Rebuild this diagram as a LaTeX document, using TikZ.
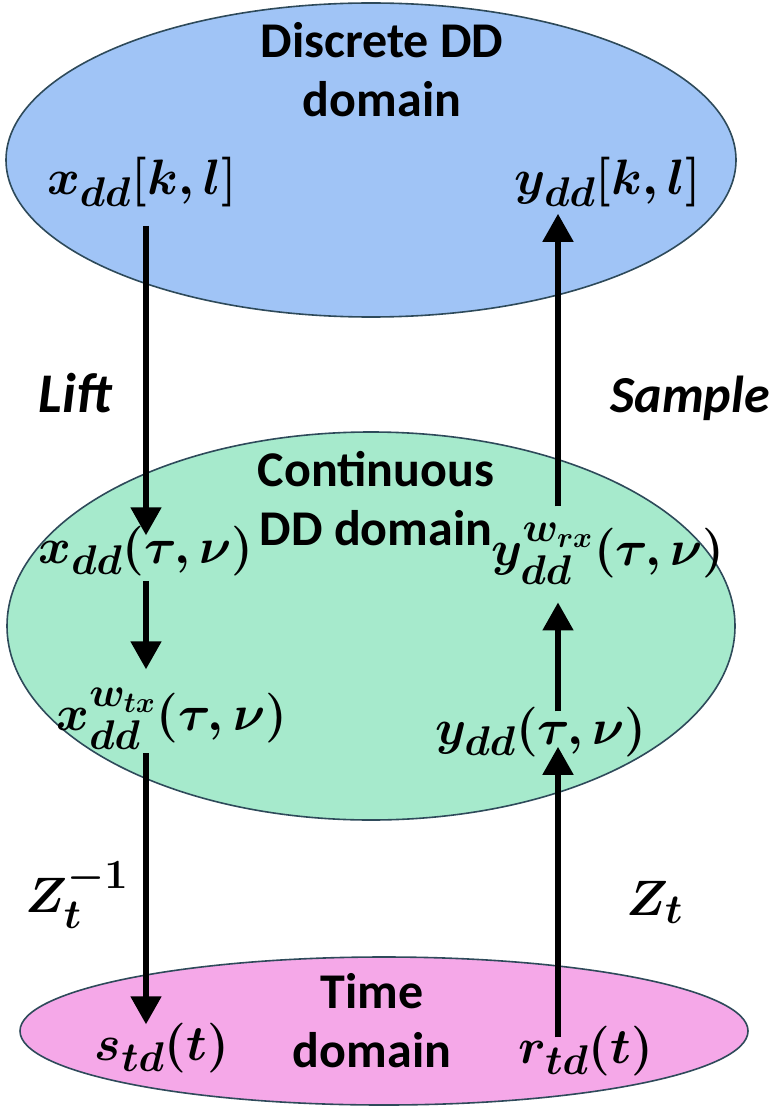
\documentclass[tikz,border=0pt]{standalone}
\usepackage{amsmath}
\usepackage{fontspec}
\setsansfont{Carlito}
\usetikzlibrary{arrows.meta}
\definecolor{ddblue}{RGB}{160,196,246}
\definecolor{ddgreen}{RGB}{166,234,204}
\definecolor{tdpink}{RGB}{245,168,232}
\definecolor{edge}{RGB}{46,74,90}
\tikzset{
  dom/.style={draw=edge,line width=0.8pt},
  lbl/.style={font=\sffamily\bfseries\fontsize{25}{29.5}\selectfont,align=center,inner sep=0pt,anchor=base},
  op/.style={font=\sffamily\bfseries\itshape\fontsize{26}{30}\selectfont,inner sep=0pt,anchor=base},
  sig/.style={font=\fontsize{28}{32}\selectfont\boldmath,inner sep=0pt,anchor=base},
  arr/.style={line width=2.6pt,-{Triangle[length=14pt,width=15pt]}}
}
\begin{document}
\begin{tikzpicture}[x=0.5pt,y=-0.5pt]
\useasboundingbox (0,0) rectangle (772,1107);
% domains
\fill[ddblue,dom] (371,160) ellipse [x radius=365, y radius=157];
\fill[ddgreen,dom] (371,626) ellipse [x radius=364, y radius=194];
\fill[tdpink,dom] (384,1031) ellipse [x radius=364, y radius=74];
% columns
\coordinate (L) at (146,0);
\coordinate (R) at (558,0);
% domain titles (base = last line)
\node[lbl] (dtitle) at (382,117) {Discrete DD\\domain};
\node[lbl] (ctitle) at (376,545) {Continuous\\DD domain};
\node[lbl] (ttitle) at (372,1067) {Time\\domain};
% signals
\node[sig] (xkl) at (142,195) {$x_{dd}[k,l]$};
\node[sig] (ykl) at (608,195) {$y_{dd}[k,l]$};
\node[sig] (xtn) at (146,563) {$x_{dd}(\tau,\nu)$};
\node[sig] (yw) at (608,565) {$y_{dd}^{w_{rx}}(\tau,\nu)$};
\node[sig] (xw) at (172,730) {$x_{dd}^{w_{tx}}(\tau,\nu)$};
\node[sig] (ytn) at (541,744) {$y_{dd}(\tau,\nu)$};
\node[sig] (std) at (162,1060) {$s_{td}(t)$};
\node[sig] (rtd) at (586,1063) {$r_{td}(t)$};
% operations
\node[op,font=\sffamily\bfseries\itshape\fontsize{28}{30}\selectfont] (lift) at (75,412) {Lift};
\node[op] (sample) at (690,412) {Sample};
\node[sig] (zinv) at (77,912) {$Z_t^{-1}$};
\node[sig] (zt) at (655,915) {$Z_t$};
% connectors
\draw[arr,shorten <=9pt,shorten >=-5pt] (xkl.south -| L) -- (xtn.north -| L);
\draw[arr,shorten <=2.5pt,shorten >=9pt] (xtn.south -| L) -- (xw.north -| L);
\draw[arr,shorten <=2pt,shorten >=-1pt] (xw.south -| L) -- (std.north -| L);
\draw[arr,shorten <=-6pt,shorten >=-5pt] (rtd.north -| R) -- (ytn.south -| R);
\draw[arr,shorten <=-2.5pt,shorten >=9pt] (ytn.north -| R) -- (yw.south -| R);
\draw[arr,shorten <=8pt,shorten >=3pt] (yw.north -| R) -- (ykl.south -| R);
\end{tikzpicture}
\end{document}
